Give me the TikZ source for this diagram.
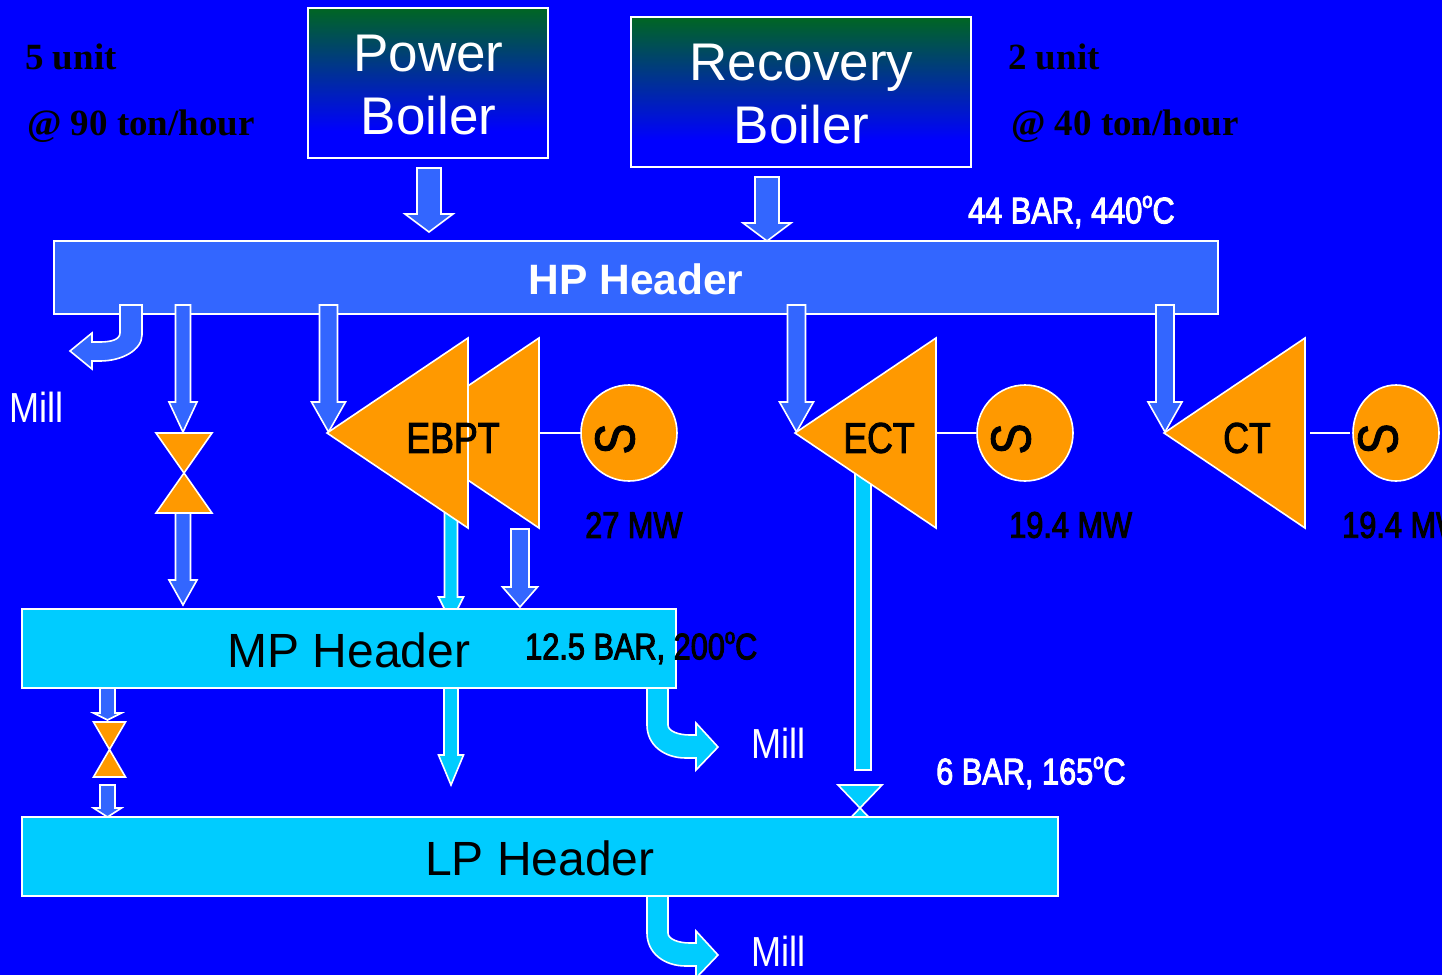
\documentclass[tikz,border=0pt]{standalone}
\usepackage{fontspec}
\setmainfont{Liberation Sans}
\newfontfamily\narrowfont[FakeStretch=0.83]{Liberation Sans}
\newfontfamily\millfont[FakeStretch=0.86]{Liberation Sans}
\newfontfamily\serifb{Liberation Serif}[BoldFont={Liberation Serif Bold}]
\usetikzlibrary{calc,shapes.geometric}
\definecolor{bg}{RGB}{0,0,255}
\definecolor{hpblue}{RGB}{51,102,255}
\definecolor{cyanb}{RGB}{0,204,255}
\definecolor{orng}{RGB}{255,153,0}
\definecolor{bgreen}{RGB}{0,102,34}
\pgfdeclareverticalshading{boilershade}{100bp}{color(0bp)=(bg); color(34bp)=(bg); color(75bp)=(bgreen); color(100bp)=(bgreen)}
\newcommand\fsz[1]{\fontsize{#1}{#1}\selectfont}
\tikzset{
  wline/.style={draw=white,line width=1.6pt,line join=miter},
  heavy/.style={execute at begin node={\special{pdf:code 2 Tr 0.95 w}},execute at end node={\special{pdf:code 0 Tr 0 w}}},
  boiler/.style={wline,shading=boilershade,inner sep=0pt},
  btext/.style={text=white,anchor=base,inner sep=0pt,font=\fsz{53}},
  header/.style={wline,inner sep=0pt},
  turb/.style={wline,fill=orng},
  gen/.style={wline,fill=orng,circle,minimum size=96pt,inner sep=0pt},
  lab/.style={inner sep=0pt,anchor=west},
  nar/.style={lab,heavy,font=\narrowfont\fsz{37}},
  ser/.style={lab,font=\serifb\bfseries\fsz{37},text=black},
  tlab/.style={inner sep=0pt,heavy,font=\narrowfont\fsz{43}},
  mill/.style={lab,text=white,font=\millfont\fsz{42}},
  sgen/.style={inner sep=0pt,heavy,rotate=90,font=\narrowfont\fsz{56}},
}
% #1 start, #2 tip, #3 shaft half, #4 head half, #5 head length, #6 fill
\newcommand\blockarrow[6]{\draw[wline,fill=#6] let \p1=(#1),\p2=(#2) in
  (\x1-#3pt,\y1)--(\x1-#3pt,\y2+#5pt)--(\x1-#4pt,\y2+#5pt)--(\x1,\y2)--(\x1+#4pt,\y2+#5pt)--(\x1+#3pt,\y2+#5pt)--(\x1+#3pt,\y1)--cycle;}
% #1 top point, #2 waist, #3 half width, #4 colour
\newcommand\valve[4]{\draw[wline,fill=#4] let \p1=(#1),\p2=(#2) in
  (\x1-#3pt,\y1)--(\x1+#3pt,\y1)--(\x2,\y2)--cycle
  (\x1-#3pt,\y2+\y2-\y1)--(\x1+#3pt,\y2+\y2-\y1)--(\x2,\y2)--cycle;}
% #1 = y shift for the cyan mill bends
\newcommand\millbend[1]{\draw[wline,fill=cyanb,yshift=#1]
  (647,688)--(668,688)--(668,725) .. controls (668,731) and (678,735) .. (690,735)
  --(696,735)--(696,723)--(718,747)--(696,770)--(696,758)--(686,758)
  .. controls (664,758) and (647,745) .. (647,725)--cycle;}
\newcommand\dego{\raisebox{.42em}{\fsz{22}o}}
\begin{document}
\begin{tikzpicture}[x=1pt,y=-1pt]
\useasboundingbox (0,0) rectangle (1442,975);
\clip (0,0) rectangle (1442,975);
\fill[bg] (0,0) rectangle (1442,975);

% boilers
\node[boiler,minimum width=240pt,minimum height=150pt] (pb) at (428,83) {};
\node[boiler,minimum width=340pt,minimum height=150pt] (rb) at (801,92) {};
\node[btext] (pbt1) at (428.5,71) {Power};
\node[btext] (pbt2) at (428.5,134.5) {Boiler};
\node[btext] (rbt1) at (801.5,80) {Recovery};
\node[btext] (rbt2) at (801.5,143.5) {Boiler};

% header and boiler arrows
\coordinate (pbs) at (429,168); \coordinate (pbt) at (429,232);
\coordinate (rbs) at (767,177); \coordinate (rbt) at (767,241);
\node[header,fill=hpblue,minimum width=1164pt,minimum height=73pt] (hp) at (636,277.5) {};
\node[text=white,font=\bfseries\fsz{42.5},inner sep=0pt] (hpt) at (636,279) {HP Header};
\blockarrow{pbs}{pbt}{12}{24}{18}{hpblue}
\blockarrow{rbs}{rbt}{12}{24}{18}{hpblue}

% mill bend from the HP header
\draw[wline,fill=hpblue] (120,305)--(142,305)--(142,335)
  .. controls (142,350) and (122,361) .. (100,361)--(92,361)--(92,369)--(70,351)--(92,333)--(92,342)--(100,342)
  .. controls (110,342) and (120,340) .. (120,333)--cycle;

% steam lines behind the turbines
\coordinate (e1s) at (451,500); \coordinate (e1t) at (451,622);
\blockarrow{e1s}{e1t}{6.5}{12.5}{25}{cyanb}
\coordinate (ects) at (863,470); \coordinate (ecte) at (863,770);
\draw[wline,fill=cyanb] let \p1=(ects),\p2=(ecte) in (\x1-8pt,\y1) rectangle (\x2+8pt,\y2);
\coordinate (cvt) at (860,785); \coordinate (cvw) at (860,808);
\valve{cvt}{cvw}{22}{cyanb}

% HP take-offs
\coordinate (a1s) at (183,305); \coordinate (a1t) at (183,432);
\coordinate (a2s) at (328.5,305); \coordinate (a2t) at (328.5,432);
\coordinate (a3s) at (796.5,305); \coordinate (a3t) at (796.5,432);
\coordinate (a4s) at (1165,305); \coordinate (a4t) at (1165,432);
\blockarrow{a1s}{a1t}{7.5}{14}{30}{hpblue}
\blockarrow{a2s}{a2t}{9}{17}{30}{hpblue}
\blockarrow{a3s}{a3t}{9}{17}{30}{hpblue}
\blockarrow{a4s}{a4t}{9}{17}{30}{hpblue}

% valve 1
\coordinate (v1t) at (184,433); \coordinate (v1w) at (184,473);
\valve{v1t}{v1w}{28}{orng}
\coordinate (a5s) at (183,513); \coordinate (a5t) at (183,605);
\blockarrow{a5s}{a5t}{7.5}{14}{25}{hpblue}

% turbines
\draw[turb] (539,338)--(398,433)--(539,528)--cycle;
\draw[turb] (468,338)--(327,433)--(468,528)--cycle;
\draw[turb] (936,338)--(795,433)--(936,528)--cycle;
\draw[turb] (1305,338)--(1164,433)--(1305,528)--cycle;
\node[tlab] (ebpt) at (453,438) {EBPT};
\node[tlab] (ect) at (879,438) {ECT};
\node[tlab] (ct) at (1247,438) {CT};

% generators
\node[gen] (g1) at (629,433) {};
\node[gen] (g2) at (1025,433) {};
\node[wline,fill=orng,ellipse,minimum width=86pt,minimum height=96pt,inner sep=0pt] (g3) at (1396,433) {};
\node[sgen] (s1) at (615,439) {S};
\node[sgen] (s2) at (1011,439) {S};
\node[sgen] (s3) at (1378,439) {S};
\coordinate (t1) at (539,433); \coordinate (t2) at (936,433); \coordinate (t3) at (1310,433); \coordinate (t3e) at (1350,433);
\draw[draw=white,line width=1.6pt] (t1)--(g1) (t2)--(g2) (t3)--(t3e);

\coordinate (e2s) at (520,529); \coordinate (e2t) at (520,607);
\blockarrow{e2s}{e2t}{9}{17.5}{20}{hpblue}

% MP header
\coordinate (m1s) at (451,688); \coordinate (m1t) at (451,785);
\blockarrow{m1s}{m1t}{7}{12.5}{30}{cyanb}
\millbend{0}
\node[header,fill=cyanb,minimum width=654pt,minimum height=79pt] (mp) at (349,648.5) {};
\node[inner sep=0pt,font=\fsz{48}] (mpt) at (349,650) {MP Header};

% small valve branch
\coordinate (s1s) at (107.5,688); \coordinate (s1t) at (107.5,720);
\blockarrow{s1s}{s1t}{7.5}{14}{7}{hpblue}
\coordinate (v2t) at (109.5,722); \coordinate (v2w) at (109.5,749.5);
\valve{v2t}{v2w}{16}{orng}
\coordinate (s2s) at (107.5,785); \coordinate (s2t) at (107.5,817);
\blockarrow{s2s}{s2t}{7.5}{14}{9}{hpblue}

% LP header
\millbend{-208}
\node[header,fill=cyanb,minimum width=1036pt,minimum height=79pt] (lp) at (540,856.5) {};
\node[inner sep=0pt,font=\fsz{48}] (lpt) at (540,858) {LP Header};

% labels
\node[ser] (l1) at (25,57) {5 unit};
\node[ser] (l2) at (27,126) {@ 90 ton/hour};
\node[ser] (l3) at (1008,57) {2 unit};
\node[ser] (l4) at (1011,126) {@ 40 ton/hour};
\node[nar,text=white] (c1) at (968,212) {44 BAR, 440\dego C};
\node[nar] (c2) at (585,525) {27 MW};
\node[nar] (c3) at (1009,525) {19.4 MW};
\node[nar] (c4) at (1342,525) {19.4 MW};
\node[nar] (c5) at (525,648) {12.5 BAR, 200\dego C};
\node[nar,text=white] (c6) at (936,773) {6 BAR, 165\dego C};
\node[mill] (m1) at (9,407) {Mill};
\node[mill] (m2) at (751,743) {Mill};
\node[mill] (m3) at (751,951) {Mill};
\end{tikzpicture}
\end{document}
